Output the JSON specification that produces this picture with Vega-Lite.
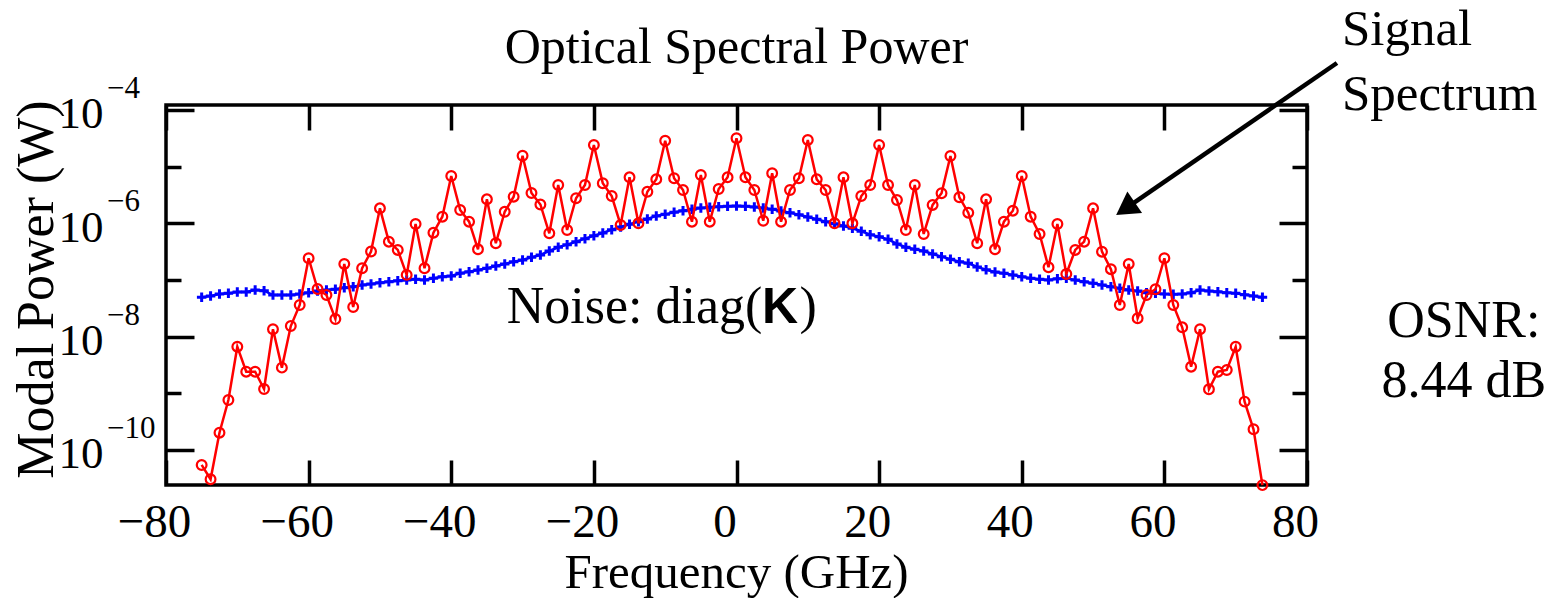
{
  "$schema": "https://vega.github.io/schema/vega-lite/v6.json",
  "width": 1141,
  "height": 380,
  "autosize": {"type": "none"},
  "padding": {"left": 166, "top": 105, "right": 258, "bottom": 113},
  "background": "white",
  "config": {
    "font": "Liberation Serif",
    "view": {"stroke": "black", "strokeWidth": 3.5},
    "axis": {
      "domain": false, "grid": false, "tickColor": "black", "tickWidth": 3.5,
      "labelColor": "black", "labelFont": "Liberation Serif", "titleFont": "Liberation Serif",
      "titleColor": "black", "titleFontWeight": "normal", "labelFlush": false, "labelOverlap": false
    }
  },
  "datasets": {
    "signal": [
      {"f":-75,"p":5.44e-11},{"f":-73.75,"p":3.04e-11},{"f":-72.5,"p":2.02e-10},{"f":-71.25,"p":7.63e-10},{"f":-70,"p":6.65e-9},{"f":-68.75,"p":2.41e-9},{"f":-67.5,"p":2.41e-9},{"f":-66.25,"p":1.19e-9},{"f":-65,"p":1.35e-8},{"f":-63.75,"p":2.84e-9},{"f":-62.5,"p":1.54e-8},{"f":-61.25,"p":3.62e-8},{"f":-60,"p":2.42e-7},{"f":-58.75,"p":6.94e-8},{"f":-57.5,"p":5.43e-8},{"f":-56.25,"p":2.05e-8},{"f":-55,"p":1.92e-7},{"f":-53.75,"p":3.34e-8},{"f":-52.5,"p":1.61e-7},{"f":-51.25,"p":3.18e-7},{"f":-50,"p":1.84e-6},{"f":-48.75,"p":4.74e-7},{"f":-47.5,"p":3.39e-7},{"f":-46.25,"p":1.23e-7},{"f":-45,"p":9.73e-7},{"f":-43.75,"p":1.61e-7},{"f":-42.5,"p":6.84e-7},{"f":-41.25,"p":1.31e-6},{"f":-40,"p":6.84e-6},{"f":-38.75,"p":1.72e-6},{"f":-37.5,"p":1.07e-6},{"f":-36.25,"p":3.48e-7},{"f":-35,"p":2.65e-6},{"f":-33.75,"p":4.45e-7},{"f":-32.5,"p":1.6e-6},{"f":-31.25,"p":2.95e-6},{"f":-30,"p":1.56e-5},{"f":-28.75,"p":3.43e-6},{"f":-27.5,"p":2.15e-6},{"f":-26.25,"p":6.67e-7},{"f":-25,"p":4.75e-6},{"f":-23.75,"p":7.62e-7},{"f":-22.5,"p":2.77e-6},{"f":-21.25,"p":4.75e-6},{"f":-20,"p":2.41e-5},{"f":-18.75,"p":5.09e-6},{"f":-17.5,"p":3.03e-6},{"f":-16.25,"p":9.35e-7},{"f":-15,"p":6.49e-6},{"f":-13.75,"p":1.0e-6},{"f":-12.5,"p":3.61e-6},{"f":-11.25,"p":5.98e-6},{"f":-10,"p":2.87e-5},{"f":-8.75,"p":6.24e-6},{"f":-7.5,"p":3.87e-6},{"f":-6.25,"p":1.07e-6},{"f":-5,"p":7.13e-6},{"f":-3.75,"p":1.07e-6},{"f":-2.5,"p":4.04e-6},{"f":-1.25,"p":6.49e-6},{"f":0,"p":3.17e-5},{"f":1.25,"p":6.49e-6},{"f":2.5,"p":3.87e-6},{"f":3.75,"p":1.11e-6},{"f":5,"p":7.64e-6},{"f":6.25,"p":1.07e-6},{"f":7.5,"p":3.87e-6},{"f":8.75,"p":6.24e-6},{"f":10,"p":2.96e-5},{"f":11.25,"p":5.98e-6},{"f":12.5,"p":3.87e-6},{"f":13.75,"p":1.0e-6},{"f":15,"p":6.49e-6},{"f":16.25,"p":1.0e-6},{"f":17.5,"p":3.03e-6},{"f":18.75,"p":4.75e-6},{"f":20,"p":2.41e-5},{"f":21.25,"p":4.75e-6},{"f":22.5,"p":2.58e-6},{"f":23.75,"p":7.62e-7},{"f":25,"p":4.75e-6},{"f":26.25,"p":6.49e-7},{"f":27.5,"p":2.11e-6},{"f":28.75,"p":3.39e-6},{"f":30,"p":1.54e-5},{"f":31.25,"p":2.88e-6},{"f":32.5,"p":1.54e-6},{"f":33.75,"p":4.45e-7},{"f":35,"p":2.65e-6},{"f":36.25,"p":3.48e-7},{"f":37.5,"p":1.07e-6},{"f":38.75,"p":1.67e-6},{"f":40,"p":6.84e-6},{"f":41.25,"p":1.31e-6},{"f":42.5,"p":6.49e-7},{"f":43.75,"p":1.68e-7},{"f":45,"p":9.73e-7},{"f":46.25,"p":1.28e-7},{"f":47.5,"p":3.39e-7},{"f":48.75,"p":4.74e-7},{"f":50,"p":1.84e-6},{"f":51.25,"p":3.16e-7},{"f":52.5,"p":1.55e-7},{"f":53.75,"p":3.62e-8},{"f":55,"p":1.92e-7},{"f":56.25,"p":2.11e-8},{"f":57.5,"p":5.43e-8},{"f":58.75,"p":6.86e-8},{"f":60,"p":2.42e-7},{"f":61.25,"p":3.62e-8},{"f":62.5,"p":1.46e-8},{"f":63.75,"p":2.95e-9},{"f":65,"p":1.35e-8},{"f":66.25,"p":1.18e-9},{"f":67.5,"p":2.41e-9},{"f":68.75,"p":2.58e-9},{"f":70,"p":6.65e-9},{"f":71.25,"p":7.13e-10},{"f":72.5,"p":2.32e-10},{"f":73.75,"p":2.4e-11}
    ],
    "noise": [
      {"f":-75,"p":4.95e-8},{"f":-73.75,"p":5.22e-8},{"f":-72.5,"p":5.66e-8},{"f":-71.25,"p":5.82e-8},{"f":-70,"p":6.14e-8},{"f":-68.75,"p":6.14e-8},{"f":-67.5,"p":6.67e-8},{"f":-66.25,"p":6.48e-8},{"f":-65,"p":5.43e-8},{"f":-63.75,"p":5.43e-8},{"f":-62.5,"p":5.43e-8},{"f":-61.25,"p":5.66e-8},{"f":-60,"p":5.97e-8},{"f":-58.75,"p":6.4e-8},{"f":-57.5,"p":6.67e-8},{"f":-56.25,"p":6.86e-8},{"f":-55,"p":7.31e-8},{"f":-53.75,"p":7.62e-8},{"f":-52.5,"p":8.17e-8},{"f":-51.25,"p":8.51e-8},{"f":-50,"p":8.97e-8},{"f":-48.75,"p":9.34e-8},{"f":-47.5,"p":9.73e-8},{"f":-46.25,"p":1.0e-7},{"f":-45,"p":1.03e-7},{"f":-43.75,"p":1.0e-7},{"f":-42.5,"p":1.07e-7},{"f":-41.25,"p":1.14e-7},{"f":-40,"p":1.18e-7},{"f":-38.75,"p":1.31e-7},{"f":-37.5,"p":1.4e-7},{"f":-36.25,"p":1.5e-7},{"f":-35,"p":1.61e-7},{"f":-33.75,"p":1.77e-7},{"f":-32.5,"p":1.92e-7},{"f":-31.25,"p":2.1e-7},{"f":-30,"p":2.25e-7},{"f":-28.75,"p":2.52e-7},{"f":-27.5,"p":2.76e-7},{"f":-26.25,"p":3.25e-7},{"f":-25,"p":3.78e-7},{"f":-23.75,"p":4.2e-7},{"f":-22.5,"p":4.74e-7},{"f":-21.25,"p":5.36e-7},{"f":-20,"p":6.05e-7},{"f":-18.75,"p":6.76e-7},{"f":-17.5,"p":7.73e-7},{"f":-16.25,"p":8.61e-7},{"f":-15,"p":9.62e-7},{"f":-13.75,"p":1.07e-6},{"f":-12.5,"p":1.19e-6},{"f":-11.25,"p":1.35e-6},{"f":-10,"p":1.44e-6},{"f":-8.75,"p":1.57e-6},{"f":-7.5,"p":1.67e-6},{"f":-6.25,"p":1.77e-6},{"f":-5,"p":1.87e-6},{"f":-3.75,"p":1.92e-6},{"f":-2.5,"p":1.97e-6},{"f":-1.25,"p":2.0e-6},{"f":0,"p":2.02e-6},{"f":1.25,"p":2.0e-6},{"f":2.5,"p":1.94e-6},{"f":3.75,"p":1.87e-6},{"f":5,"p":1.77e-6},{"f":6.25,"p":1.65e-6},{"f":7.5,"p":1.54e-6},{"f":8.75,"p":1.42e-6},{"f":10,"p":1.29e-6},{"f":11.25,"p":1.18e-6},{"f":12.5,"p":1.07e-6},{"f":13.75,"p":9.86e-7},{"f":15,"p":8.97e-7},{"f":16.25,"p":8.17e-7},{"f":17.5,"p":7.24e-7},{"f":18.75,"p":6.31e-7},{"f":20,"p":5.81e-7},{"f":21.25,"p":5.22e-7},{"f":22.5,"p":4.32e-7},{"f":23.75,"p":3.78e-7},{"f":25,"p":3.48e-7},{"f":26.25,"p":3.25e-7},{"f":27.5,"p":2.88e-7},{"f":28.75,"p":2.58e-7},{"f":30,"p":2.32e-7},{"f":31.25,"p":2.1e-7},{"f":32.5,"p":1.97e-7},{"f":33.75,"p":1.7e-7},{"f":35,"p":1.52e-7},{"f":36.25,"p":1.38e-7},{"f":37.5,"p":1.31e-7},{"f":38.75,"p":1.23e-7},{"f":40,"p":1.14e-7},{"f":41.25,"p":1.07e-7},{"f":42.5,"p":1.03e-7},{"f":43.75,"p":1.0e-7},{"f":45,"p":1.05e-7},{"f":46.25,"p":1.07e-7},{"f":47.5,"p":1.0e-7},{"f":48.75,"p":9.34e-8},{"f":50,"p":8.75e-8},{"f":51.25,"p":8.17e-8},{"f":52.5,"p":7.62e-8},{"f":53.75,"p":7.14e-8},{"f":55,"p":6.67e-8},{"f":56.25,"p":6.4e-8},{"f":57.5,"p":5.97e-8},{"f":58.75,"p":5.82e-8},{"f":60,"p":5.66e-8},{"f":61.25,"p":5.6e-8},{"f":62.5,"p":5.66e-8},{"f":63.75,"p":5.97e-8},{"f":65,"p":6.67e-8},{"f":66.25,"p":6.4e-8},{"f":67.5,"p":6.22e-8},{"f":68.75,"p":5.97e-8},{"f":70,"p":5.82e-8},{"f":71.25,"p":5.51e-8},{"f":72.5,"p":5.22e-8},{"f":73.75,"p":4.95e-8}
    ],
    "exponents": [
      {"f":-80,"p":1e-4,"t":"−4"},{"f":-80,"p":1e-6,"t":"−6"},{"f":-80,"p":1e-8,"t":"−8"},{"f":-80,"p":1e-10,"t":"−10"}
    ],
    "title": [{"f":0,"p":6.75e-4,"t":"Optical Spectral Power"}],
    "noiseLabel": [{"f":-32.22,"p":1.74e-8,"t":"Noise: diag("},{"f":8.84,"p":1.74e-8,"t":")"}],
    "noiseK": [{"f":3.59,"p":1.74e-8,"t":"K"}],
    "signalLabel": [{"f":84.9,"p":1.38e-3,"t":"Signal\nSpectrum"}],
    "osnr": [{"f":102,"p":1e-8,"t":"OSNR:\n8.44 dB"}],
    "arrow": [{"f":84.2,"p":6.75e-4,"f2":54.54,"p2":1.82e-6}]
  },
  "resolve": {"axis": {"x": "independent", "y": "independent"}},
  "layer": [
    {
      "data": {"name": "noise"},
      "mark": {"type": "line", "color": "#0000ff", "strokeWidth": 2.5, "clip": false},
      "encoding": {
        "x": {"field": "f", "type": "quantitative", "scale": {"type": "linear", "domain": [-80, 80], "nice": false, "zero": false},
              "axis": {"orient": "top", "values": [-80,-60,-40,-20,0,20,40,60,80], "tickSize": -25, "labels": false, "title": null}},
        "y": {"field": "p", "type": "quantitative", "scale": {"type": "log", "domain": [2.41e-11, 1.225e-4], "nice": false},
              "axis": {"orient": "right", "values": [1e-4,1e-6,1e-8,1e-10], "tickSize": -28, "labels": false, "title": null}}
      }
    },
    {
      "data": {"name": "noise"},
      "mark": {"type": "point", "shape": "M-1,0L1,0M0,-1L0,1", "filled": false, "color": "#0000ff", "size": 90, "strokeWidth": 3, "opacity": 1, "clip": false},
      "encoding": {
        "x": {"field": "f", "type": "quantitative", "scale": {"type": "linear", "domain": [-80, 80], "nice": false, "zero": false}, "axis": null},
        "y": {"field": "p", "type": "quantitative", "scale": {"type": "log", "domain": [2.41e-11, 1.225e-4], "nice": false},
              "axis": {"orient": "right", "values": [1e-5,1e-7,1e-9], "tickSize": -15, "labels": false, "title": null}}
      }
    },
    {
      "data": {"name": "signal"},
      "mark": {"type": "line", "color": "#ff0000", "strokeWidth": 2.5, "clip": false},
      "encoding": {
        "x": {"field": "f", "type": "quantitative", "scale": {"type": "linear", "domain": [-80, 80], "nice": false, "zero": false},
              "axis": {"orient": "bottom", "values": [-80,-60,-40,-20,0,20,40,60,80], "tickSize": -25, "labelFontSize": 47, "labelPadding": 76, "labelBaseline": "alphabetic", "labelOffset": -12,
                       "title": "Frequency (GHz)", "titleFontSize": 49, "titleX": 570, "titleY": 102, "titleBaseline": "alphabetic", "titleAlign": "center"}},
        "y": {"field": "p", "type": "quantitative", "scale": {"type": "log", "domain": [2.41e-11, 1.225e-4], "nice": false},
              "axis": {"orient": "left", "values": [1e-4,1e-6,1e-8,1e-10], "tickSize": -28, "labelExpr": "'10'", "labelFontSize": 45, "labelPadding": 91, "labelBaseline": "alphabetic", "labelOffset": 18,
                       "title": "Modal Power (W)", "titleFontSize": 52, "titleX": -114, "titleY": 184, "titleAngle": -90, "titleBaseline": "alphabetic", "titleAlign": "center"}}
      }
    },
    {
      "data": {"name": "signal"},
      "mark": {"type": "point", "shape": "circle", "filled": false, "color": "#ff0000", "size": 95, "strokeWidth": 2.2, "opacity": 1, "clip": false},
      "encoding": {
        "x": {"field": "f", "type": "quantitative", "scale": {"type": "linear", "domain": [-80, 80], "nice": false, "zero": false}, "axis": null},
        "y": {"field": "p", "type": "quantitative", "scale": {"type": "log", "domain": [2.41e-11, 1.225e-4], "nice": false},
              "axis": {"orient": "left", "values": [1e-5,1e-7,1e-9], "tickSize": -15, "labels": false, "title": null}}
      }
    },
    {
      "data": {"name": "exponents"},
      "mark": {"type": "text", "align": "left", "baseline": "alphabetic", "dx": -59, "dy": -12, "fontSize": 31, "font": "Liberation Serif", "color": "black", "clip": false},
      "encoding": {
        "x": {"field": "f", "type": "quantitative", "scale": {"type": "linear", "domain": [-80, 80], "nice": false, "zero": false}, "axis": null},
        "y": {"field": "p", "type": "quantitative", "scale": {"type": "log", "domain": [2.41e-11, 1.225e-4], "nice": false}, "axis": null},
        "text": {"field": "t"}
      }
    },
    {
      "data": {"name": "title"},
      "mark": {"type": "text", "align": "center", "baseline": "alphabetic", "fontSize": 50, "font": "Liberation Serif", "color": "black", "clip": false},
      "encoding": {
        "x": {"field": "f", "type": "quantitative", "scale": {"type": "linear", "domain": [-80, 80], "nice": false, "zero": false}, "axis": null},
        "y": {"field": "p", "type": "quantitative", "scale": {"type": "log", "domain": [2.41e-11, 1.225e-4], "nice": false}, "axis": null},
        "text": {"field": "t"}
      }
    },
    {
      "data": {"name": "noiseLabel"},
      "mark": {"type": "text", "align": "left", "baseline": "alphabetic", "fontSize": 52, "font": "Liberation Serif", "color": "black", "clip": false},
      "encoding": {
        "x": {"field": "f", "type": "quantitative", "scale": {"type": "linear", "domain": [-80, 80], "nice": false, "zero": false}, "axis": null},
        "y": {"field": "p", "type": "quantitative", "scale": {"type": "log", "domain": [2.41e-11, 1.225e-4], "nice": false}, "axis": null},
        "text": {"field": "t"}
      }
    },
    {
      "data": {"name": "noiseK"},
      "mark": {"type": "text", "align": "left", "baseline": "alphabetic", "fontSize": 50, "font": "Liberation Sans", "fontWeight": "bold", "color": "black", "clip": false},
      "encoding": {
        "x": {"field": "f", "type": "quantitative", "scale": {"type": "linear", "domain": [-80, 80], "nice": false, "zero": false}, "axis": null},
        "y": {"field": "p", "type": "quantitative", "scale": {"type": "log", "domain": [2.41e-11, 1.225e-4], "nice": false}, "axis": null},
        "text": {"field": "t"}
      }
    },
    {
      "data": {"name": "signalLabel"},
      "mark": {"type": "text", "align": "left", "baseline": "alphabetic", "fontSize": 51, "lineBreak": "\n", "lineHeight": 65, "font": "Liberation Serif", "color": "black", "clip": false},
      "encoding": {
        "x": {"field": "f", "type": "quantitative", "scale": {"type": "linear", "domain": [-80, 80], "nice": false, "zero": false}, "axis": null},
        "y": {"field": "p", "type": "quantitative", "scale": {"type": "log", "domain": [2.41e-11, 1.225e-4], "nice": false}, "axis": null},
        "text": {"field": "t"}
      }
    },
    {
      "data": {"name": "osnr"},
      "mark": {"type": "text", "align": "center", "baseline": "alphabetic", "fontSize": 52, "lineBreak": "\n", "lineHeight": 60, "font": "Liberation Serif", "color": "black", "clip": false},
      "encoding": {
        "x": {"field": "f", "type": "quantitative", "scale": {"type": "linear", "domain": [-80, 80], "nice": false, "zero": false}, "axis": null},
        "y": {"field": "p", "type": "quantitative", "scale": {"type": "log", "domain": [2.41e-11, 1.225e-4], "nice": false}, "axis": null},
        "text": {"field": "t"}
      }
    },
    {
      "data": {"name": "arrow"},
      "mark": {"type": "rule", "color": "black", "strokeWidth": 4.5, "clip": false},
      "encoding": {
        "x": {"field": "f", "type": "quantitative", "scale": {"type": "linear", "domain": [-80, 80], "nice": false, "zero": false}, "axis": null},
        "y": {"field": "p", "type": "quantitative", "scale": {"type": "log", "domain": [2.41e-11, 1.225e-4], "nice": false}, "axis": null},
        "x2": {"field": "f2"},
        "y2": {"field": "p2"}
      }
    },
    {
      "data": {"name": "arrow"},
      "mark": {"type": "point", "shape": "triangle-up", "filled": true, "color": "black", "size": 676, "angle": 235.5, "opacity": 1, "clip": false},
      "encoding": {
        "x": {"field": "f2", "type": "quantitative", "scale": {"type": "linear", "domain": [-80, 80], "nice": false, "zero": false}, "axis": null},
        "y": {"field": "p2", "type": "quantitative", "scale": {"type": "log", "domain": [2.41e-11, 1.225e-4], "nice": false}, "axis": null}
      }
    }
  ]
}
